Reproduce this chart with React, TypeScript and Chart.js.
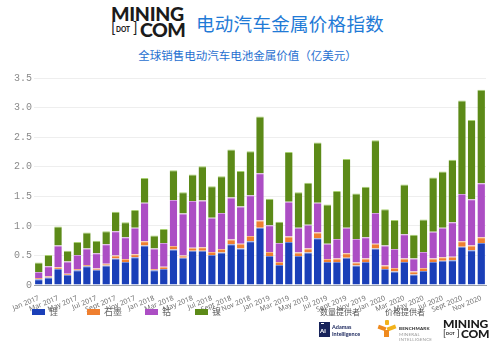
import React, { useEffect, useRef } from "react";
import { Chart, registerables } from "chart.js";

Chart.register(...registerables);

const categories = [
  "Jan 2017", "Feb 2017", "Mar 2017", "Apr 2017", "May 2017", "Jun 2017", "Jul 2017", "Aug 2017", "Sept 2017", "Oct 2017", "Nov 2017", "Dec 2017",
  "Jan 2018", "Feb 2018", "Mar 2018", "Apr 2018", "May 2018", "Jun 2018", "Jul 2018", "Aug 2018", "Sept 2018", "Oct 2018", "Nov 2018", "Dec 2018",
  "Jan 2019", "Feb 2019", "Mar 2019", "Apr 2019", "May 2019", "Jun 2019", "Jul 2019", "Aug 2019", "Sept 2019", "Oct 2019", "Nov 2019", "Dec 2019",
  "Jan 2020", "Feb 2020", "Mar 2020", "Apr 2020", "May 2020", "Jun 2020", "Jul 2020", "Aug 2020", "Sept 2020", "Oct 2020", "Nov 2020",
];

const lithium = [
  0.10, 0.13, 0.27, 0.17, 0.25, 0.32, 0.26, 0.33, 0.45, 0.39, 0.47, 0.67,
  0.25, 0.27, 0.60, 0.46, 0.58, 0.58, 0.51, 0.55, 0.69, 0.62, 0.74, 0.97,
  0.49, 0.34, 0.73, 0.49, 0.55, 0.79, 0.39, 0.39, 0.46, 0.33, 0.39, 0.62,
  0.27, 0.23, 0.39, 0.18, 0.24, 0.39, 0.41, 0.42, 0.65, 0.59, 0.71,
];
const graphite = [
  0.02, 0.02, 0.03, 0.02, 0.02, 0.02, 0.02, 0.03, 0.05, 0.05, 0.05, 0.07,
  0.02, 0.04, 0.06, 0.04, 0.05, 0.06, 0.05, 0.06, 0.08, 0.08, 0.09, 0.12,
  0.07, 0.05, 0.09, 0.06, 0.07, 0.10, 0.05, 0.06, 0.08, 0.05, 0.06, 0.08,
  0.06, 0.06, 0.06, 0.05, 0.05, 0.06, 0.06, 0.06, 0.09, 0.08, 0.10,
];
const cobalt = [
  0.10, 0.17, 0.37, 0.21, 0.24, 0.28, 0.26, 0.33, 0.41, 0.37, 0.45, 0.65,
  0.35, 0.40, 0.78, 0.71, 0.79, 0.79, 0.58, 0.61, 0.71, 0.63, 0.69, 0.80,
  0.45, 0.32, 0.59, 0.42, 0.40, 0.50, 0.26, 0.33, 0.43, 0.40, 0.36, 0.52,
  0.34, 0.32, 0.41, 0.22, 0.27, 0.45, 0.50, 0.58, 0.80, 0.78, 0.91,
];
const nickel = [
  0.16, 0.19, 0.32, 0.18, 0.22, 0.27, 0.21, 0.22, 0.33, 0.25, 0.30, 0.42,
  0.22, 0.24, 0.50, 0.36, 0.45, 0.58, 0.53, 0.62, 0.81, 0.60, 0.74, 0.96,
  0.45, 0.36, 0.84, 0.60, 0.71, 1.02, 0.66, 0.81, 1.16, 0.77, 0.85, 1.23,
  0.61, 0.49, 0.84, 0.40, 0.55, 0.92, 0.95, 1.06, 1.58, 1.34, 1.58,
];

const seriesNames = ["锂", "石墨", "钴", "镍"];
const seriesColors = ["#1a3fb8", "#ef7f2f", "#ac4ec4", "#5c8a18"];
const seriesBorders = ["#6f86d6", "#f6b487", "#d39ae0", "#a8d070"];
const yTicks = [0, 0.5, 1, 1.5, 2, 2.5, 3, 3.5];

function Logo({ scale }: { scale: number }) {
  const s = scale;
  return (
    <div style={{ position: "relative", width: 74 * s, height: 31 * s, fontFamily: "Lato", fontWeight: 900, color: "#1b1b1b", lineHeight: 1 }}>
      <div style={{ position: "absolute", left: 0, top: -3 * s, fontSize: 19.5 * s, letterSpacing: -0.3 * s }}>MINING</div>
      <div style={{ position: "absolute", left: 0, top: 13 * s, fontSize: 15 * s, fontWeight: 400, color: "#1b1b1b" }}>[</div>
      <div style={{ position: "absolute", left: 5 * s, top: 20 * s, fontSize: 6.5 * s, fontWeight: 900 }}>DOT</div>
      <div style={{ position: "absolute", left: 22 * s, top: 13 * s, fontSize: 15 * s, fontWeight: 400 }}>]</div>
      <div style={{ position: "absolute", left: 29 * s, top: 13 * s, fontSize: 19.5 * s, letterSpacing: -0.5 * s }}>COM</div>
    </div>
  );
}

export default function App() {
  const canvasRef = useRef<HTMLCanvasElement | null>(null);

  useEffect(() => {
    const values = [lithium, graphite, cobalt, nickel];
    const chart = new Chart(canvasRef.current as HTMLCanvasElement, {
      type: "bar",
      data: {
        labels: categories,
        datasets: values.map((v, i) => ({
          label: seriesNames[i],
          data: v,
          backgroundColor: seriesColors[i],
          borderColor: seriesBorders[i],
          borderWidth: { top: 1, left: 0, right: 0, bottom: 0 },
          borderSkipped: "bottom",
          categoryPercentage: 1,
          barPercentage: 0.78,
        })),
      },
      options: {
        responsive: true,
        maintainAspectRatio: false,
        animation: false,
        layout: { padding: { left: 12, right: 17, top: 12, bottom: 0 } },
        plugins: { legend: { display: false }, tooltip: { enabled: false }, title: { display: false } },
        scales: {
          x: {
            stacked: true,
            grid: { display: false },
            border: { display: true, color: "#9aa0aa" },
            ticks: {
              autoSkip: false,
              minRotation: 22,
              maxRotation: 22,
              padding: 1,
              color: "#666",
              font: { family: "Open Sans", size: 7 },
              callback: (_v: any, i: number) => (i % 2 === 0 ? categories[i] : ""),
            },
          },
          y: {
            stacked: true,
            min: 0,
            max: 3.5,
            afterBuildTicks: (axis: any) => {
              axis.ticks = yTicks.map((v) => ({ value: v }));
            },
            grid: { color: "#eeeeee", drawTicks: false },
            border: { display: false },
            ticks: {
              padding: 2,
              color: "#8a8a8a",
              font: { family: "Liberation Mono", size: 10 },
              callback: (v: any) => (Number(v) === 0 ? "0" : Number(v).toFixed(1)),
            },
          },
        },
      },
    });
    return () => chart.destroy();
  }, []);

  const legendLeft = [32, 87, 145, 195];

  return (
    <div style={{ position: "fixed", left: 0, top: 0, width: 503, height: 349, background: "#fff", overflow: "hidden" }}>
      <div style={{ position: "absolute", left: 111, top: 7 }}>
        <Logo scale={1} />
      </div>
      <div style={{ position: "absolute", left: 196, top: 10, fontFamily: "Noto Sans CJK SC", fontSize: 18.5, color: "#1f7ad6", letterSpacing: 0.3, whiteSpace: "nowrap" }}>
        电动汽车金属价格指数
      </div>
      <div style={{ position: "absolute", left: 0, width: 495, top: 47, textAlign: "center", fontFamily: "Noto Sans CJK SC", fontSize: 11.5, color: "#1f6fd0", whiteSpace: "nowrap" }}>
        全球销售电动汽车电池金属价值（亿美元）
      </div>
      <div style={{ position: "absolute", left: 0, top: 66, width: 503, height: 249 }}>
        <canvas ref={canvasRef} />
      </div>
      {seriesNames.map((n, i) => (
        <div key={n} style={{ position: "absolute", left: legendLeft[i], top: 305, display: "flex", alignItems: "center", fontFamily: "Noto Sans CJK SC", fontSize: 9, color: "#666", whiteSpace: "nowrap" }}>
          <span style={{ display: "inline-block", width: 13, height: 6, background: seriesColors[i], marginRight: 4 }} />
          {n}
        </div>
      ))}
      <div style={{ position: "absolute", left: 320, top: 306, fontFamily: "Noto Sans CJK SC", fontSize: 8, color: "#555", whiteSpace: "nowrap" }}>数量提供者</div>
      <div style={{ position: "absolute", left: 385, top: 306, fontFamily: "Noto Sans CJK SC", fontSize: 8, color: "#555", whiteSpace: "nowrap" }}>价格提供者</div>
      <div style={{ position: "absolute", left: 319, top: 322, width: 11, height: 15, background: "#17235a" }}>
        <div style={{ position: "absolute", left: 2, top: 1, width: 3, height: 1, background: "#fff" }} />
        <div style={{ position: "absolute", left: 1, top: 6, fontFamily: "Lato", fontWeight: 900, fontSize: 6, color: "#fff", lineHeight: 1 }}>Ai</div>
      </div>
      <div style={{ position: "absolute", left: 332, top: 324, fontFamily: "Lato", fontWeight: 700, fontSize: 5.5, color: "#17235a", lineHeight: 1.2 }}>
        Adamas<br />Intelligence
      </div>
      <div style={{ position: "absolute", left: 378, top: 320, width: 18, height: 17 }}>
        <div style={{ position: "absolute", left: 7, top: 0, width: 4, height: 5, background: "#f2b21b", borderRadius: 1 }} />
        <div style={{ position: "absolute", left: 0, top: 6, width: 8, height: 4, background: "#ef8a1e", transform: "rotate(20deg)" }} />
        <div style={{ position: "absolute", left: 9, top: 6, width: 9, height: 4, background: "#f2b21b", transform: "rotate(-20deg)" }} />
        <div style={{ position: "absolute", left: 6, top: 10, width: 5, height: 7, background: "#ef8a1e" }} />
      </div>
      <div style={{ position: "absolute", left: 399, top: 326, fontFamily: "Lato", fontWeight: 900, fontSize: 4.5, color: "#333", lineHeight: 1.25, letterSpacing: 0.2 }}>
        BENCHMARK
        <div style={{ fontWeight: 400, color: "#999" }}>MINERAL<br />INTELLIGENCE</div>
      </div>
      <div style={{ position: "absolute", left: 443, top: 320 }}>
        <Logo scale={0.62} />
      </div>
    </div>
  );
}
